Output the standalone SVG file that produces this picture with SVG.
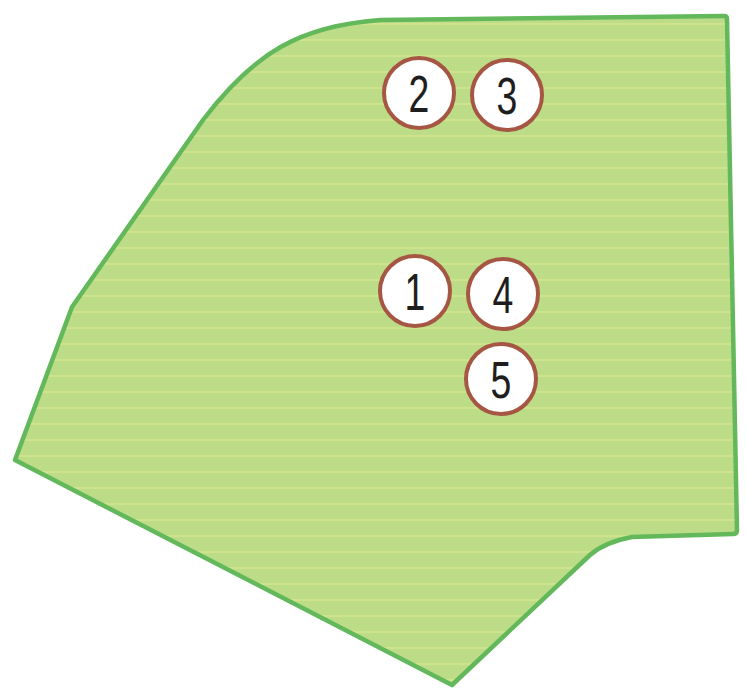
<svg xmlns="http://www.w3.org/2000/svg" width="746" height="697" viewBox="0 0 746 697">
<defs>
<pattern id="stripes" patternUnits="userSpaceOnUse" x="0" y="0" width="746" height="16">
<rect width="746" height="16" fill="#bcdc88"/>
<rect y="7" width="746" height="2" fill="#cfe38c"/>
</pattern>
<style>
.badge circle{fill:#ffffff;stroke:#a65744;stroke-width:4}
.badge text{font-family:"Liberation Sans","Roboto",sans-serif;font-size:52px;fill:#1e1e1e;text-anchor:middle}
</style>
</defs>
<rect width="746" height="697" fill="#ffffff"/>
<g id="area">
<path d="M 15 460 L 72 307 L 203 120 C 255 52 300 26 380 20 L 724 16 Q 727 16 727 19 L 737 530 Q 737 534 733 534 L 632 537 Q 605 542 590 555 L 452 685 Z" fill="url(#stripes)" stroke="#62b85a" stroke-width="4.5" stroke-linejoin="round"/>
</g>
<g id="node2" class="badge"><circle cx="419" cy="93" r="35"/><text transform="translate(419,112) scale(0.72,1)">2</text></g>
<g id="node3" class="badge"><circle cx="507" cy="95" r="35"/><text transform="translate(507,114) scale(0.72,1)">3</text></g>
<g id="node1" class="badge"><circle cx="415" cy="291" r="35"/><text transform="translate(415,310) scale(0.72,1)">1</text></g>
<g id="node4" class="badge"><circle cx="503" cy="294" r="35"/><text transform="translate(503,313) scale(0.72,1)">4</text></g>
<g id="node5" class="badge"><circle cx="501" cy="379" r="35"/><text transform="translate(501,398) scale(0.72,1)">5</text></g>
<g id="connectors"/>
</svg>
